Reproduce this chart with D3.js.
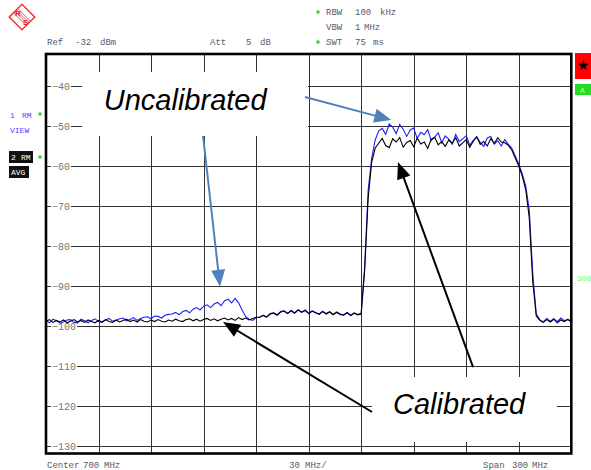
<!DOCTYPE html>
<html>
<head>
<meta charset="utf-8">
<script src="https://cdn.jsdelivr.net/npm/d3@7"></script>
<style>
  body { margin: 0; background: #fff; }
  svg { display: block; }
</style>
</head>
<body>
<div id="chart"></div>
<script>
// sweep points, 2 MHz apart (center 700 MHz, span 300 MHz)
const freqMHz = d3.range(550, 851, 2);

// trace 1 (RM VIEW, blue) = uncalibrated
const uncalDb = [
  -98.6, -99.2, -98.3, -98.7, -99.3, -99.0, -98.5, -98.4, -99.1, -99.2,
  -98.3, -98.7, -99.2, -98.6, -98.2, -98.9, -99.1, -98.5, -98.1, -98.8,
  -98.6, -98.2, -98.0, -98.7, -98.4, -97.9, -98.6, -98.1, -97.8, -97.7,
  -98.2, -97.5, -97.6, -98.0, -97.3, -97.1,
  -97.0, -96.6, -97.2, -96.4, -96.1, -96.7, -95.8, -95.4, -96.0, -95.1,
  -94.7, -95.4, -94.5, -94.1, -94.9, -93.7, -93.3, -94.2, -93.1, -94.2,
  -96.0, -97.6, -98.3, -98.6, -97.9,
  -97.8, -97.3, -97.7, -96.9, -96.7, -97.2, -96.4, -96.2, -96.8, -96.1,
  -96.7, -95.9, -96.5, -96.0, -96.8, -96.2, -96.6, -97.0, -96.3, -96.9,
  -96.4, -97.1, -96.5, -97.0, -97.2, -96.6, -97.3, -96.7, -97.1, -96.9,
  -85.0, -66.0, -58.0, -53.5,
  -51.2, -50.6, -52.1, -49.5, -50.3, -51.9, -49.6, -50.8, -52.6, -51.0,
  -50.5, -53.1, -51.6, -52.2, -50.9, -53.7, -52.8, -51.7, -54.2, -52.5,
  -53.3, -54.6, -52.1, -53.9, -53.2, -52.4, -54.8, -53.6, -52.7, -54.1,
  -55.1, -53.0, -52.6, -54.5, -53.7, -55.0,
  -53.4, -54.6, -55.5, -57.5, -59.5, -62.0, -65.0, -71.0, -87.0, -97.0,
  -98.4, -99.0, -98.1, -98.8, -98.2, -98.9, -98.0, -98.7, -98.3, -98.8
];

// trace 2 (RM AVG, black) = calibrated
const calDb = [
  -98.8, -98.4, -99.1, -98.6, -99.0, -98.5, -99.2, -98.8, -98.4, -99.0,
  -98.6, -99.1, -98.5, -98.9, -99.2, -98.6, -99.0, -98.4, -98.9, -99.1,
  -98.5, -99.0, -98.6, -98.3, -98.9, -98.5, -99.0, -98.4, -98.8, -99.0,
  -98.5, -98.9, -98.4, -98.8, -99.0, -98.5,
  -98.8, -98.3, -98.7, -98.9, -98.4, -98.2, -98.7, -98.3, -98.8, -98.4,
  -98.1, -98.6, -98.2, -98.7, -98.3, -98.0, -98.5, -98.1, -98.6, -97.9,
  -98.4, -98.0, -98.5, -98.1, -97.8,
  -97.8, -97.4, -97.8, -97.0, -96.8, -97.3, -96.5, -96.3, -96.9, -96.2,
  -96.8, -96.0, -96.6, -96.1, -96.9, -96.3, -96.7, -97.1, -96.4, -97.0,
  -96.5, -97.2, -96.6, -97.1, -97.3, -96.7, -97.4, -96.8, -97.2, -97.0,
  -86.0, -68.0, -59.0, -55.5,
  -54.3, -53.1, -54.9, -55.4, -53.2, -54.0, -52.9, -55.3, -54.1, -53.6,
  -55.2, -53.0, -54.5, -54.0, -55.6, -53.3, -52.8, -54.7, -53.9, -55.1,
  -53.5, -54.3, -52.9, -55.0, -54.2, -53.4, -55.3, -53.8, -52.7, -54.6,
  -53.9, -55.0, -53.2, -54.4, -52.9, -54.0,
  -54.2, -54.8, -56.0, -58.0, -60.0, -62.5, -66.0, -73.0, -89.0, -97.5,
  -98.6, -99.1, -98.4, -99.0, -98.3, -99.2, -98.5, -98.9, -98.4, -99.0
];

const levelTicks = [-40, -50, -60, -70, -80, -90, -100, -110, -120, -130];
const freqGrid = [580, 610, 640, 670, 700, 730, 760, 790, 820];

// annotations: [label, x freq, baseline dB], white boxes, arrows from -> to
const labels = [["Uncalibrated", 583, -46], ["Calibrated", 748.2, -122]];
const labelBoxes = [[570.6, 699.6, -36.5, -52.5], [736.2, 841.8, -112.75, -129]];
const arrows = [
  {from: [697.9, -42.75], to: [747.2, -48.5], color: "#4f81bd"},
  {from: [639.7, -52.5], to: [649.4, -90.2], color: "#4f81bd"},
  {from: [793.9, -110.3], to: [751.0, -59.0], color: "#000"},
  {from: [736.2, -121.5], to: [651.1, -99.0], color: "#000"}
];

const W = 591, H = 470;
const mono = "'Liberation Mono', 'DejaVu Sans Mono', monospace";
const hdrColor = "#5a5a68";

const svg = d3.select("#chart").append("svg")
  .attr("width", W).attr("height", H);

const x = d3.scaleLinear().domain([550, 850]).range([46, 571.3]);
const y = d3.scaleLinear().domain([-132, -32]).range([454, 54]);
const snap = v => Math.round(v) + 0.5;

// grid
svg.append("g").selectAll("line").data(levelTicks).join("line")
  .attr("x1", x(550)).attr("x2", x(850))
  .attr("y1", d => snap(y(d))).attr("y2", d => snap(y(d)))
  .attr("stroke", "#333").attr("stroke-width", 1);
svg.append("g").selectAll("line").data(freqGrid).join("line")
  .attr("x1", d => snap(x(d))).attr("x2", d => snap(x(d)))
  .attr("y1", y(-32)).attr("y2", y(-132))
  .attr("stroke", "#333").attr("stroke-width", 1);

// level labels sit on the grid lines
const lvl = svg.append("g");
levelTicks.forEach(v => {
  const t = String(v).replace("-", "\u2212");
  lvl.append("rect").attr("x", 51).attr("y", snap(y(v)) - 4)
    .attr("width", t.length * 6 + 2).attr("height", 8).attr("fill", "#fff");
  lvl.append("text").attr("x", 52).attr("y", snap(y(v)) + 3.5)
    .attr("font-family", mono).attr("font-size", 10).attr("fill", "#777")
    .text(t);
});

// white boxes behind the annotation labels
svg.append("g").selectAll("rect").data(labelBoxes).join("rect")
  .attr("x", d => x(d[0])).attr("y", d => y(d[2]))
  .attr("width", d => x(d[1]) - x(d[0])).attr("height", d => y(d[3]) - y(d[2]))
  .attr("fill", "#fff");

// traces
const line = d3.line().x((d, i) => x(freqMHz[i])).y(d => y(d));
svg.append("path").datum(uncalDb).attr("d", line)
  .attr("fill", "none").attr("stroke", "#1f1fff").attr("stroke-width", 1.1);
svg.append("path").datum(calDb).attr("d", line)
  .attr("fill", "none").attr("stroke", "#000").attr("stroke-width", 1.1);

// frame
svg.append("rect").attr("x", x(550)).attr("y", y(-32))
  .attr("width", x(850) - x(550)).attr("height", y(-132) - y(-32) - 0.5)
  .attr("fill", "none").attr("stroke", "#000").attr("stroke-width", 2.6);

// arrows
const ag = svg.append("g");
arrows.forEach(a => {
  const x0 = x(a.from[0]), y0 = y(a.from[1]), x1 = x(a.to[0]), y1 = y(a.to[1]);
  const len = Math.hypot(x1 - x0, y1 - y0), ux = (x1 - x0) / len, uy = (y1 - y0) / len;
  const hl = 17, hw = 7;
  const bx = x1 - ux * hl, by = y1 - uy * hl;
  ag.append("line").attr("x1", x0).attr("y1", y0).attr("x2", bx + ux * 2).attr("y2", by + uy * 2)
    .attr("stroke", a.color).attr("stroke-width", 2);
  ag.append("path")
    .attr("d", `M${x1},${y1}L${bx - uy * hw},${by + ux * hw}L${bx + uy * hw},${by - ux * hw}Z`)
    .attr("fill", a.color);
});

// annotation text
svg.append("g").selectAll("text").data(labels).join("text")
  .attr("x", d => x(d[1])).attr("y", d => y(d[2]))
  .attr("font-family", "'Liberation Sans', Arial, sans-serif")
  .attr("font-style", "italic").attr("font-size", 29).attr("fill", "#000")
  .text(d => d[0]);

// header / footer text
function mtext(tx, ty, s, fill, size) {
  svg.append("text").attr("x", tx).attr("y", ty)
    .attr("font-family", mono).attr("font-size", size || 9)
    .attr("fill", fill || hdrColor).text(s);
}
mtext(47, 45, "Ref"); mtext(75, 45, "-32"); mtext(100, 45, "dBm");
mtext(210, 45, "Att"); mtext(246, 45, "5"); mtext(260, 45, "dB");
mtext(326, 15, "RBW"); mtext(355, 15, "100"); mtext(380, 15, "kHz");
mtext(326, 30, "VBW"); mtext(355, 30, "1"); mtext(364, 30, "MHz");
mtext(326, 45, "SWT"); mtext(355, 45, "75"); mtext(373, 45, "ms");
mtext(47, 468, "Center"); mtext(83, 468, "700"); mtext(104, 468, "MHz");
mtext(289, 468, "30"); mtext(305, 468, "MHz/");
mtext(483, 468, "Span"); mtext(512, 468, "300"); mtext(532, 468, "MHz");

// green status dots
[[318, 12], [318, 42], [40, 114], [40, 157]].forEach(p => {
  svg.append("rect").attr("x", p[0] - 1.5).attr("y", p[1] - 1.5)
    .attr("width", 3).attr("height", 3).attr("fill", "#3c3");
});

// trace labels on the left
mtext(10, 118, "1", "#4b4bff", 8); mtext(22, 118, "RM", "#4b4bff", 8);
mtext(10, 133, "VIEW", "#4b4bff", 8);
svg.append("rect").attr("x", 9).attr("y", 151).attr("width", 24).attr("height", 12).attr("fill", "#111");
svg.append("rect").attr("x", 9).attr("y", 166).attr("width", 20).attr("height", 12).attr("fill", "#111");
mtext(11, 160, "2", "#fff", 8); mtext(21, 160, "RM", "#fff", 8);
mtext(11, 175, "AVG", "#fff", 8);

// right side status boxes
svg.append("rect").attr("x", 575).attr("y", 53).attr("width", 16).attr("height", 26).attr("fill", "#f00");
svg.append("text").attr("x", 583).attr("y", 70).attr("text-anchor", "middle")
  .attr("font-family", "'DejaVu Sans', sans-serif").attr("font-size", 14).attr("fill", "#000").text("\u2605");
svg.append("rect").attr("x", 575).attr("y", 84).attr("width", 16).attr("height", 11).attr("fill", "#2d2");
mtext(580, 93, "A", "#bfb", 8);
mtext(577, 281, "300", "#6f6", 8);

// R&S logo
const logo = svg.append("g").attr("transform", "translate(22,17) rotate(45)");
logo.append("rect").attr("x", -9).attr("y", -9).attr("width", 18).attr("height", 18)
  .attr("fill", "none").attr("stroke", "#e33").attr("stroke-width", 1.5);
[-3, -1, 1, 3].forEach(o => {
  logo.append("line").attr("x1", -9).attr("x2", 9).attr("y1", o).attr("y2", o)
    .attr("stroke", "#e33").attr("stroke-width", 0.8);
});
svg.append("text").attr("x", 15).attr("y", 16).attr("font-family", "'Liberation Sans', sans-serif")
  .attr("font-size", 8).attr("font-weight", "bold").attr("fill", "#d22").text("R");
svg.append("text").attr("x", 23).attr("y", 25).attr("font-family", "'Liberation Sans', sans-serif")
  .attr("font-size", 8).attr("font-weight", "bold").attr("fill", "#d22").text("S");
</script>
</body>
</html>
